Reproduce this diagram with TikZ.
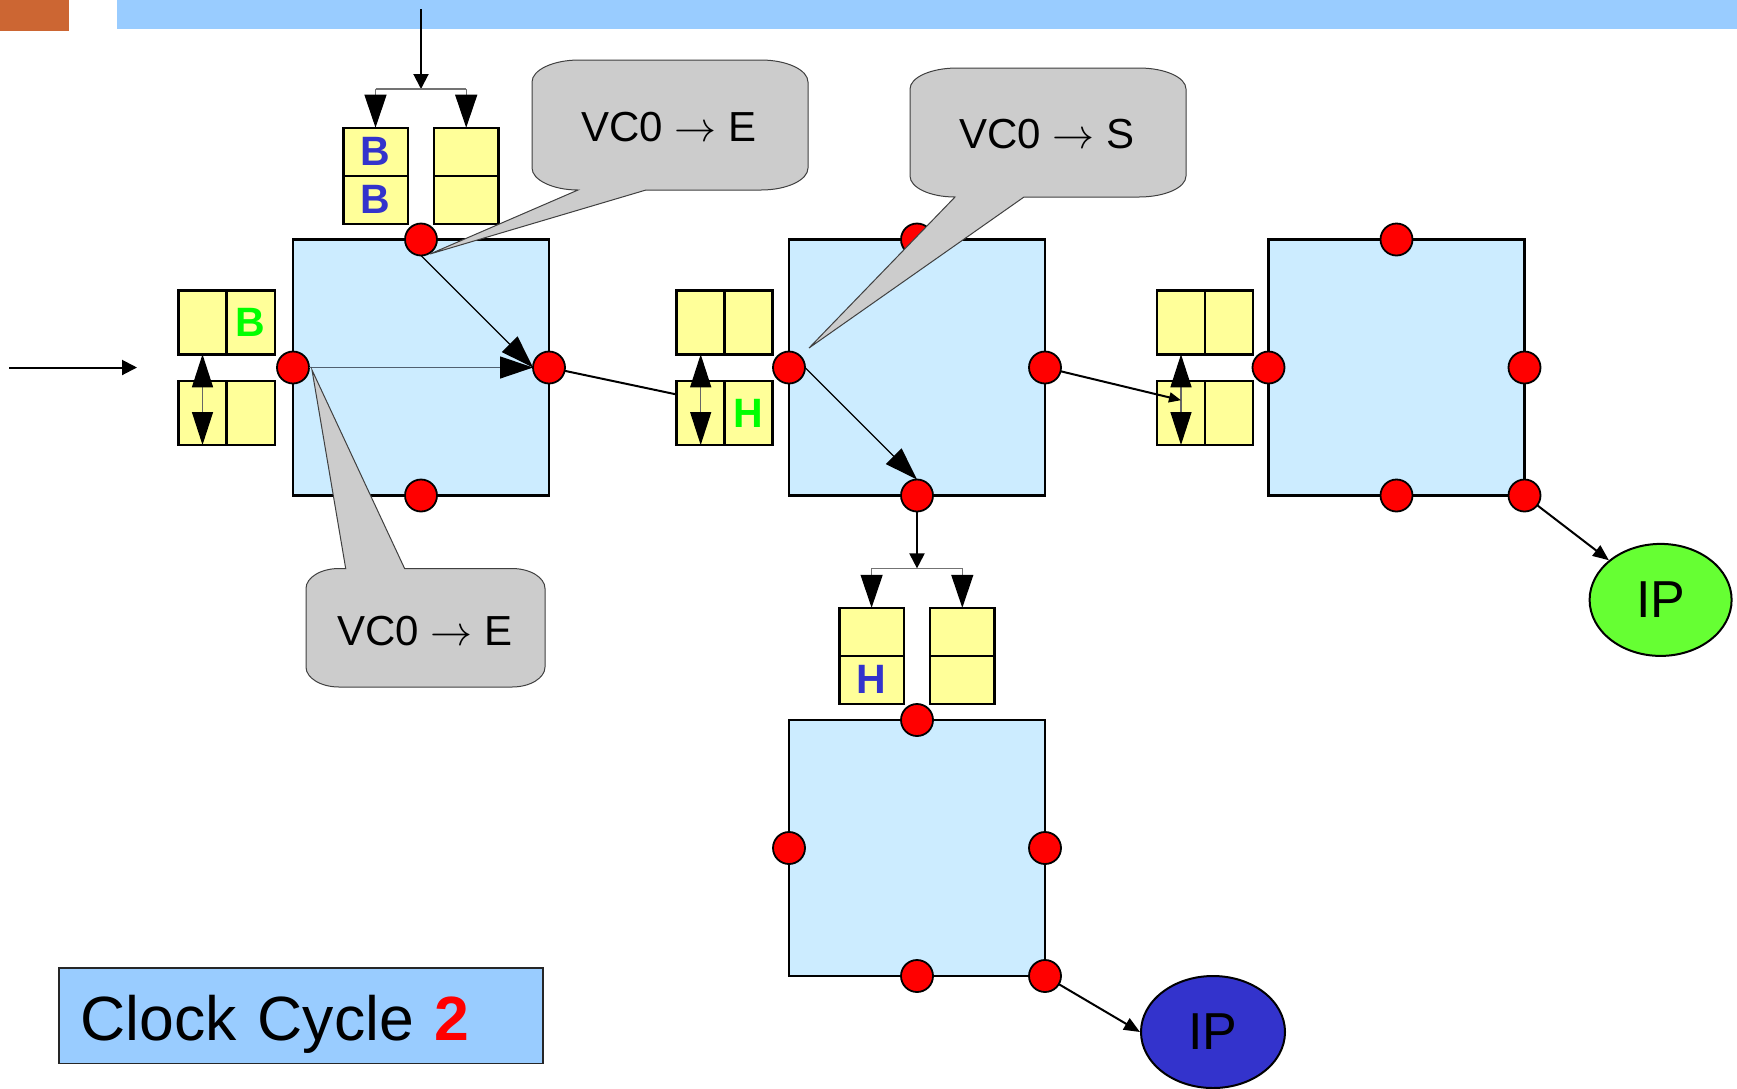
\RequirePackage{fix-cm}
\documentclass[tikz,border=0pt]{standalone}
\usepackage{fontspec}
\setmainfont{Liberation Sans}
\usetikzlibrary{arrows.meta,shapes.geometric,calc}
\definecolor{routerblue}{HTML}{CCECFF}
\definecolor{bufyellow}{HTML}{FFFF99}
\definecolor{barblue}{HTML}{99CCFF}
\definecolor{barorange}{HTML}{CC6633}
\definecolor{ipgreen}{HTML}{66FF33}
\definecolor{ipblue}{HTML}{3333CC}
\definecolor{letterblue}{HTML}{3333CC}
\definecolor{lettergreen}{HTML}{00FF00}
\definecolor{calloutgray}{HTML}{CCCCCC}
\definecolor{dotred}{HTML}{FF0000}
\definecolor{slate}{HTML}{506070}
\newcommand{\myarrow}{{\fontsize{42}{44}\selectfont$\rightarrow$}}
\tikzset{
  router/.style={draw, line width=2.7pt, fill=routerblue, minimum width=256pt, minimum height=256pt, inner sep=0pt, outer sep=0pt},
  port/.style={circle, draw, line width=1.8pt, fill=dotred, minimum size=32pt, inner sep=0pt, outer sep=0pt},
  cell/.style={draw, line width=2.4pt, fill=bufyellow, inner sep=0pt, outer sep=0pt, font=\fontsize{41}{41}\selectfont\bfseries},
  wcell/.style={cell, minimum width=48.3pt, minimum height=64pt},
  ncell/.style={cell, minimum width=64.4pt, minimum height=48pt},
  link/.style={line width=2pt, draw=black},
  innerarrow/.style={line width=1.3pt},
  bracket/.style={line width=1.3pt, draw=black!55},
  dbl/.style={line width=1.3pt, draw=black!60, arrows={Triangle[length=33pt,width=21pt,color=black]-Triangle[length=33pt,width=21pt,color=black]}},
  bigtip/.tip={Triangle[length=33pt,width=22pt,color=black]},
  smalltip/.tip={Triangle[length=15pt,width=15pt,color=black]},
  midtip/.tip={Triangle[length=16pt,width=13pt,color=black]},
  callout/.style={draw=black!75, line width=1pt, fill=calloutgray},
  ctext/.style={font=\fontsize{42}{50}\selectfont, inner sep=0pt},
  ip/.style={ellipse, draw, line width=2pt, minimum width=142pt, minimum height=112pt, inner sep=0pt, font=\fontsize{52}{60}\selectfont},
}
\begin{document}
\begin{tikzpicture}[x=1pt,y=-1pt]
\useasboundingbox (0,0) rectangle (1737,1088);
\fill[white] (0,0) rectangle (1737,1088);
\fill[barorange] (0,0) rectangle (69,31);
\fill[barblue] (117,0) rectangle (1737,29);

% routers
\node[router] (rA) at (421,367.5) {};
\node[router] (rB) at (917,367.5) {};
\node[router] (rC) at (1396.5,367.5) {};
\node[router] (rD) at (917,848) {};

% buffers, router A west
\node[wcell] (aW1) at (202.5,322.3) {};
\node[wcell, text=lettergreen] (aW2) at (250.8,322.3) {\raisebox{-4pt}{B}};
\node[wcell] (aW3) at (202.5,413) {};
\node[wcell] (aW4) at (250.8,413) {};
% router B west
\node[wcell] (bW1) at (700.7,322.3) {};
\node[wcell] (bW2) at (748.5,322.3) {};
\node[wcell] (bW3) at (700.7,413) {};
\node[wcell, text=lettergreen] (bW4) at (748.5,413) {\raisebox{-4pt}{H}};
% router C west
\node[wcell] (cW1) at (1181,322.3) {};
\node[wcell] (cW2) at (1229,322.3) {};
\node[wcell] (cW3) at (1181,413) {};
\node[wcell] (cW4) at (1229,413) {};
% router A north
\node[ncell, text=letterblue] (aN1) at (375.5,151.7) {\raisebox{-1pt}{B}};
\node[ncell, text=letterblue] (aN2) at (375.5,199.7) {\raisebox{-1pt}{B}};
\node[ncell] (aN3) at (466.2,151.7) {};
\node[ncell] (aN4) at (466.2,199.7) {};
% router D north
\node[ncell] (dN1) at (871.6,631.8) {};
\node[ncell, text=letterblue] (dN2) at (871.6,679.7) {H};
\node[ncell] (dN3) at (962.3,631.8) {};
\node[ncell] (dN4) at (962.3,679.7) {};

% ports
\node[port] (pAn) at (rA.north) {};
\node[port] (pAw) at (rA.west) {};
\node[port] (pAe) at (rA.east) {};
\node[port] (pAs) at (rA.south) {};
\node[port] (pBn) at (rB.north) {};
\node[port] (pBw) at (rB.west) {};
\node[port] (pBe) at (rB.east) {};
\node[port] (pBs) at (rB.south) {};
\node[port] (pCn) at (rC.north) {};
\node[port] (pCw) at (rC.west) {};
\node[port] (pCe) at (rC.east) {};
\node[port] (pCs) at (rC.south) {};
\node[port] (pCse) at (rC.south east) {};
\node[port] (pDn) at (rD.north) {};
\node[port] (pDw) at (rD.west) {};
\node[port] (pDe) at (rD.east) {};
\node[port] (pDs) at (rD.south) {};
\node[port] (pDse) at (rD.south east) {};

% IP cores
\node[ip, fill=ipgreen] (ipG) at (1660.6,599.9) {IP};
\node[ip, fill=ipblue, minimum width=144pt] (ipB) at (1213,1032) {IP};

% input arrows
\coordinate (inL) at (9,367.5);
\coordinate (inR) at (137,367.5);
\draw[link, -{smalltip}] (inL) -- (inR);
\coordinate (topIn) at (421,9);
\coordinate (aFork) at (421,89);
\draw[link, -{smalltip}] (topIn) -- (aFork);
\draw[bracket] (aN1.north |- aFork) -- (aN3.north |- aFork);
\draw[bracket, -{bigtip}] (aN1.north |- aFork) -- (aN1.north);
\draw[bracket, -{bigtip}] (aN3.north |- aFork) -- (aN3.north);

% double arrows in west buffers
\draw[dbl] (aW1.south) -- (aW3.south);
\draw[dbl] (bW1.south) -- (bW3.south);
\draw[dbl] (cW1.south) -- (cW3.south);

% inner router arrows
\draw[innerarrow, -{bigtip}] (pAn.south) -- (pAe.west);
\draw[innerarrow, draw=slate, -{bigtip}] (pAw.east) -- (pAe.west);
\draw[innerarrow, -{bigtip}] (pBw.east) -- (pBs.north);

% links
\draw[link] (pAe) -- ($(bW3.north west)!0.21!(bW3.south west)$);
\draw[link, -{Triangle[length=12pt,width=10pt]}] (pBe) -- ($(cW3.north)!0.3!(cW3.south)$);
\coordinate (dFork) at (917,568.4);
\draw[link, -{smalltip}] (pBs) -- (dFork);
\draw[bracket] (dN1.north |- dFork) -- (dN3.north |- dFork);
\draw[bracket, -{bigtip}] (dN1.north |- dFork) -- (dN1.north);
\draw[bracket, -{bigtip}] (dN3.north |- dFork) -- (dN3.north);
\draw[link, -{midtip}] (pCse) -- (ipG);
\draw[link, -{midtip}] (pDse) -- (ipB.west);

% callouts
\path[callout] (579,60) -- (761,60) .. controls (787,60) and (808,70) .. (808,82) -- (808,168) .. controls (808,180) and (787,190) .. (761,190) -- (646,190) -- (430,254) -- (578,190) .. controls (553,190) and (532,180) .. (532,168) -- (532,82) .. controls (532,70) and (553,60) .. (579,60) -- cycle;
\node[ctext] (t1) at (669,127) {VC0 \myarrow{} E};

\path[callout] (957,68) -- (1139,68) .. controls (1165,68) and (1186,77.4) .. (1186,89) -- (1186,176) .. controls (1186,187.6) and (1165,197) .. (1139,197) -- (1024,197) -- (809,348) -- (955,197) .. controls (930,197) and (910,187.6) .. (910,176) -- (910,89) .. controls (910,77.4) and (931,68) .. (957,68) -- cycle;
\node[ctext] (t2) at (1047,134.5) {VC0 \myarrow{} S};

\path[callout] (339,568.5) -- (345.7,568.5) -- (312,370) -- (404.6,568.5) -- (512,568.5) .. controls (530.2,568.5) and (545,577.5) .. (545,588.5) -- (545,667) .. controls (545,678) and (530.2,687) .. (512,687) -- (339,687) .. controls (320.8,687) and (306,678) .. (306,667) -- (306,588.5) .. controls (306,577.5) and (320.8,568.5) .. (339,568.5) -- cycle;
\node[ctext] (t3) at (425,631) {VC0 \myarrow{} E};

% clock cycle box
\node[draw=black!85, line width=1.5pt, fill=barblue, minimum width=484pt, minimum height=95.5pt, inner xsep=21.8pt, inner ysep=0pt, text width=440.4pt, align=left, text height=50pt, text depth=0pt, font=\fontsize{62.5}{70}\selectfont] (clock) at (300.8,1015.8) {Clock Cycle \textcolor{dotred}{\bfseries 2}};
\end{tikzpicture}
\end{document}
